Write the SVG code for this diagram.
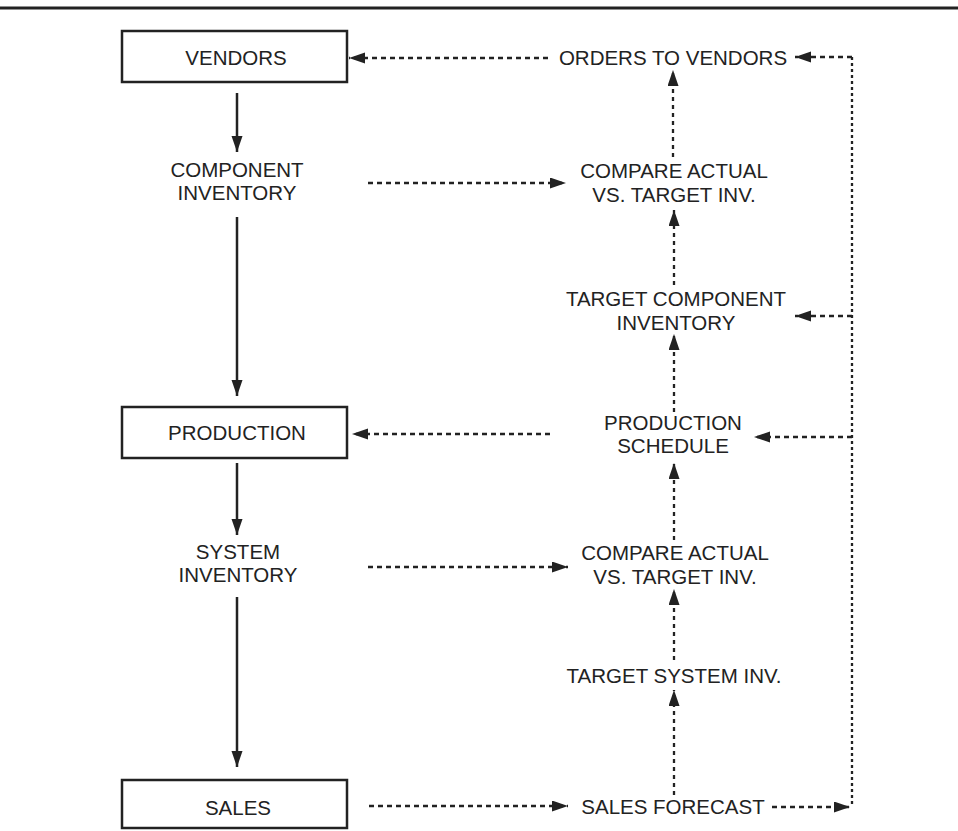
<svg xmlns="http://www.w3.org/2000/svg" width="958" height="831" viewBox="0 0 958 831">
<defs>
<style>
text{font-family:"Liberation Sans",Arial,sans-serif;font-size:20.5px;fill:#222;text-anchor:middle}
.box{fill:#fff;stroke:#222;stroke-width:2.5}
.solid{stroke:#222;stroke-width:2.5;fill:none}
.dh{stroke:#222;stroke-width:2.3;fill:none;stroke-dasharray:5 4}
.dv{stroke:#222;stroke-width:2.3;fill:none;stroke-dasharray:4 4}
.dr{stroke:#222;stroke-width:2.3;fill:none;stroke-dasharray:3 3}
</style>
<marker id="ah" markerUnits="userSpaceOnUse" markerWidth="17" markerHeight="12" refX="16" refY="5.5" orient="auto">
<path d="M0,0 L16,5.5 L0,11 z" fill="#222"/>
</marker>
</defs>
<rect x="0" y="6.5" width="958" height="3" fill="#222"/>

<g id="vendors"><rect class="box" x="122" y="31" width="225" height="51"/><text x="236" y="65">VENDORS</text></g>
<g id="component-inventory"><text x="237" y="177">COMPONENT</text><text x="237" y="200">INVENTORY</text></g>
<g id="production"><rect class="box" x="122" y="407" width="225" height="51"/><text x="237" y="440">PRODUCTION</text></g>
<g id="system-inventory"><text x="238" y="559">SYSTEM</text><text x="238" y="582">INVENTORY</text></g>
<g id="sales"><rect class="box" x="122" y="780" width="225" height="48"/><text x="238" y="815">SALES</text></g>

<g id="orders-to-vendors"><text x="673" y="65">ORDERS TO VENDORS</text></g>
<g id="compare-component"><text x="674" y="178">COMPARE ACTUAL</text><text x="674" y="202">VS. TARGET INV.</text></g>
<g id="target-component"><text x="676" y="306">TARGET COMPONENT</text><text x="676" y="330">INVENTORY</text></g>
<g id="production-schedule"><text x="673" y="430">PRODUCTION</text><text x="673" y="453">SCHEDULE</text></g>
<g id="compare-system"><text x="675" y="560">COMPARE ACTUAL</text><text x="675" y="584">VS. TARGET INV.</text></g>
<g id="target-system"><text x="674" y="683">TARGET SYSTEM INV.</text></g>
<g id="sales-forecast"><text x="673" y="814">SALES FORECAST</text></g>

<g id="connectors">
<line class="solid" x1="237" y1="93" x2="237" y2="152" marker-end="url(#ah)"/>
<line class="solid" x1="237" y1="217" x2="237" y2="396" marker-end="url(#ah)"/>
<line class="solid" x1="237" y1="463" x2="237" y2="535" marker-end="url(#ah)"/>
<line class="solid" x1="237" y1="597" x2="237" y2="767" marker-end="url(#ah)"/>

<line class="dh" x1="548" y1="58" x2="349" y2="58" marker-end="url(#ah)"/>
<line class="dh" x1="852" y1="57" x2="795" y2="57" marker-end="url(#ah)"/>
<line class="dh" x1="368" y1="183" x2="566" y2="183" marker-end="url(#ah)"/>
<line class="dh" x1="852" y1="316" x2="795" y2="316" marker-end="url(#ah)"/>
<line class="dh" x1="852" y1="437" x2="754" y2="437" marker-end="url(#ah)"/>
<line class="dh" x1="550" y1="434" x2="352" y2="434" marker-end="url(#ah)"/>
<line class="dh" x1="368" y1="567" x2="568" y2="567" marker-end="url(#ah)"/>
<line class="dh" x1="369" y1="806" x2="568" y2="806" marker-end="url(#ah)"/>
<line class="dh" x1="772" y1="807" x2="850" y2="807" marker-end="url(#ah)"/>

<line class="dv" x1="673" y1="157" x2="673" y2="70" marker-end="url(#ah)"/>
<line class="dv" x1="674" y1="285" x2="674" y2="210" marker-end="url(#ah)"/>
<line class="dv" x1="674" y1="412" x2="674" y2="334" marker-end="url(#ah)"/>
<line class="dv" x1="674" y1="540" x2="674" y2="463" marker-end="url(#ah)"/>
<line class="dv" x1="674" y1="660" x2="674" y2="589" marker-end="url(#ah)"/>
<line class="dv" x1="674" y1="795" x2="674" y2="690" marker-end="url(#ah)"/>

<line class="dr" x1="852" y1="57" x2="852" y2="807"/>
</g>
</svg>
